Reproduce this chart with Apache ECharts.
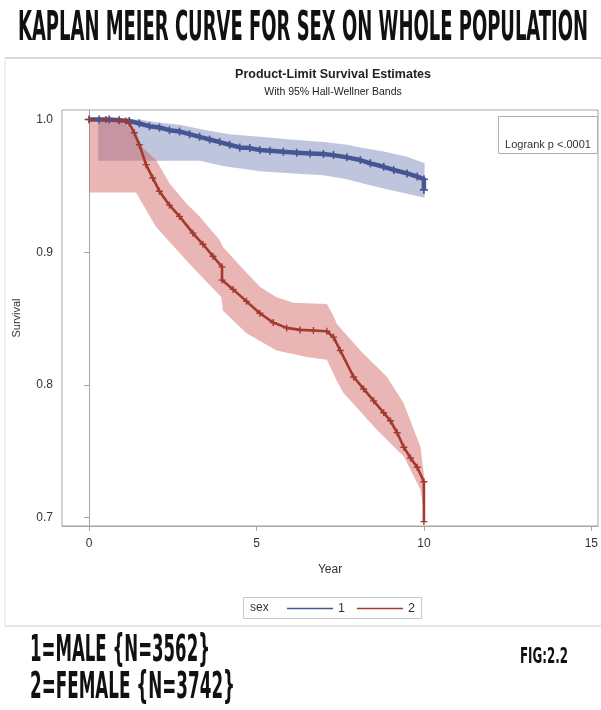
<!DOCTYPE html>
<html>
<head>
<meta charset="utf-8">
<script src="https://cdn.jsdelivr.net/npm/echarts@6/dist/echarts.min.js"></script>
<style>
  html, body { margin: 0; padding: 0; background: #ffffff; }
  #chart { width: 601px; height: 710px; }
</style>
</head>
<body>
<div id="chart"></div>
<script>
// Axis ticks
const xTicks = [0, 5, 10, 15];
const yTicks = [0.7, 0.8, 0.9, 1.0];
const groupNames = ['1', '2'];

// Kaplan-Meier estimate, sex = 1 (male): [year, survival]
const maleCurve = [
  [0, 1.0], [0.3, 1.0], [0.6, 1.0], [0.9, 0.9995], [1.2, 0.999], [1.5, 0.997],
  [1.8, 0.995], [2.1, 0.994], [2.4, 0.992], [2.7, 0.991], [3.0, 0.989], [3.3, 0.987],
  [3.6, 0.985], [3.9, 0.983], [4.2, 0.981], [4.5, 0.979], [4.8, 0.9785], [5.1, 0.977],
  [5.4, 0.9765], [5.8, 0.9757], [6.2, 0.975], [6.6, 0.9745], [7.0, 0.974], [7.3, 0.9732],
  [7.7, 0.9715], [8.1, 0.9695], [8.4, 0.967], [8.8, 0.9644], [9.1, 0.962], [9.5, 0.9594],
  [9.8, 0.957], [10.0, 0.955], [10.0, 0.947]
];
// 95% Hall-Wellner band, male
const maleUpper = [
  [0, 1.0], [1.5, 1.0], [2.0, 0.998], [2.7, 0.996], [3.5, 0.992], [4.2, 0.989],
  [5.1, 0.987], [6.0, 0.985], [7.0, 0.983], [7.7, 0.981], [8.1, 0.979], [8.8, 0.976],
  [9.5, 0.972], [10.02, 0.967]
];
const maleLower = [
  [0, 1.0], [0.27, 1.0], [0.27, 0.969], [3.3, 0.969], [4.0, 0.965], [5.1, 0.961],
  [6.0, 0.9595], [7.0, 0.958], [7.7, 0.955], [8.3, 0.951], [8.8, 0.948], [9.5, 0.944],
  [10.02, 0.941]
];

// Kaplan-Meier estimate, sex = 2 (female): [year, survival]
const femaleCurve = [
  [0, 1.0], [0.5, 1.0], [0.9, 0.9995], [1.1, 0.999], [1.2, 0.997], [1.35, 0.99],
  [1.5, 0.981], [1.7, 0.966], [1.9, 0.956], [2.1, 0.946], [2.4, 0.9355], [2.7, 0.927],
  [3.1, 0.9144], [3.4, 0.906], [3.7, 0.897], [3.97, 0.889], [3.97, 0.879], [4.3, 0.872],
  [4.7, 0.863], [5.1, 0.854], [5.5, 0.847], [5.9, 0.843], [6.3, 0.8415], [6.7, 0.841],
  [7.1, 0.8405], [7.3, 0.836], [7.5, 0.826], [7.9, 0.806], [8.2, 0.797], [8.5, 0.788],
  [8.8, 0.779], [9.0, 0.773], [9.2, 0.764], [9.4, 0.753], [9.6, 0.745], [9.8, 0.738],
  [10.0, 0.727], [10.0, 0.697]
];
// 95% Hall-Wellner band, female
const femaleUpper = [
  [0, 1.0], [1.0, 1.0], [1.3, 0.99], [1.6, 0.979], [2.0, 0.9695], [2.4, 0.952],
  [2.9, 0.937], [3.3, 0.927], [3.9, 0.909], [4.0, 0.904], [4.5, 0.89], [5.1, 0.874],
  [5.6, 0.866], [6.1, 0.862], [7.1, 0.861], [7.3, 0.852], [7.4, 0.846], [8.1, 0.826],
  [8.9, 0.806], [9.4, 0.786], [9.9, 0.753], [10.02, 0.728]
];
const femaleLower = [
  [0, 1.0], [0, 0.945], [1.4, 0.945], [2.0, 0.919], [2.9, 0.894], [3.5, 0.878],
  [3.95, 0.866], [4.0, 0.856], [4.7, 0.839], [5.6, 0.826], [6.5, 0.821], [7.1, 0.819],
  [7.4, 0.803], [7.6, 0.794], [8.6, 0.766], [9.4, 0.746], [9.9, 0.721], [10.02, 0.70]
];

const BLUE = '#445694';
const RED = '#a23a2e';
const BLUE_FILL = 'rgba(111,126,179,0.45)';
const RED_FILL = 'rgba(208,91,91,0.45)';
const PLUS = 'path://M4,0h2v4h4v2h-4v4h-2v-4h-4v-2h4z';
const AXIS_GRAY = '#a6a6a6';
const TEXT = '#333333';

// Horizontal scale factor so a condensed headline fills a given width
const measureCtx = document.createElement('canvas').getContext('2d');
function fitScale(text, font, width) {
  measureCtx.font = font;
  return width / measureCtx.measureText(text).width;
}

function band(name, upper, lower, fill) {
  const pts = upper.concat(lower.slice().reverse());
  return {
    type: 'custom',
    name: name,
    silent: true,
    clip: true,
    data: pts,
    encode: { x: 0, y: 1 },
    renderItem: function (params, api) {
      if (params.dataIndex !== 0) return null;
      return {
        type: 'polygon',
        shape: { points: pts.map(function (p) { return api.coord(p); }) },
        style: { fill: fill }
      };
    },
    z: 2
  };
}

function kmLine(name, data, color, width, size) {
  return {
    type: 'line',
    name: name,
    data: data,
    symbol: PLUS,
    symbolSize: size,
    showSymbol: true,
    lineStyle: { color: color, width: width, join: 'round' },
    itemStyle: { color: color },
    emphasis: { disabled: true },
    z: 3
  };
}

const condensed = '"DejaVu Sans Condensed", "Roboto", "Liberation Sans", sans-serif';
const titleFont = 'bold 41px ' + condensed;
const noteFont = 'bold 37px ' + condensed;
const figFont = 'bold 21px ' + condensed;
const titleText = 'KAPLAN MEIER CURVE FOR SEX ON WHOLE POPULATION';
const maleText = '1=MALE {N=3562}';
const femaleText = '2=FEMALE {N=3742}';
const figText = 'FIG:2.2';

const chart = echarts.init(document.getElementById('chart'), null, { renderer: 'canvas' });

chart.setOption({
  animation: false,
  backgroundColor: '#ffffff',
  grid: {
    left: 62, right: 3, top: 110, bottom: 184,
    show: true, borderColor: AXIS_GRAY, borderWidth: 1, backgroundColor: '#ffffff'
  },
  xAxis: {
    type: 'value', min: -0.81, max: 15.2,
    name: 'Year', nameLocation: 'middle', nameGap: 38,
    nameTextStyle: { color: TEXT, fontSize: 12, fontFamily: 'Liberation Sans' },
    axisLine: { show: true, lineStyle: { color: AXIS_GRAY } },
    axisTick: { show: true, length: 5, lineStyle: { color: AXIS_GRAY }, customValues: xTicks },
    axisLabel: { color: TEXT, fontSize: 12, fontFamily: 'Liberation Sans', margin: 12, customValues: xTicks },
    splitLine: { show: false }
  },
  yAxis: {
    type: 'value', min: 0.6937, max: 1.0072,
    name: 'Survival', nameLocation: 'middle', nameGap: 40,
    nameTextStyle: { color: TEXT, fontSize: 11, fontFamily: 'Liberation Sans' },
    axisLine: { show: true, lineStyle: { color: AXIS_GRAY } },
    axisTick: { show: true, length: 5, lineStyle: { color: AXIS_GRAY }, customValues: yTicks },
    axisLabel: {
      color: TEXT, fontSize: 12, fontFamily: 'Liberation Sans', margin: 9, customValues: yTicks,
      formatter: function (v) { return v.toFixed(1); }
    },
    splitLine: { show: false }
  },
  legend: {
    data: groupNames,
    left: 287, top: 602, padding: 0,
    icon: 'rect', itemWidth: 46, itemHeight: 1.5, itemGap: 12,
    textStyle: { color: TEXT, fontSize: 12.5, fontFamily: 'Liberation Sans' },
    selectedMode: false
  },
  series: [
    band('male band', maleUpper, maleLower, BLUE_FILL),
    band('female band', femaleUpper, femaleLower, RED_FILL),
    kmLine(groupNames[0], maleCurve, BLUE, 4.5, 8),
    kmLine(groupNames[1], femaleCurve, RED, 2.6, 7)
  ],
  graphic: [
    // page rules
    { type: 'line', shape: { x1: 5, y1: 58, x2: 601, y2: 58 }, style: { stroke: '#d8d8d8', lineWidth: 2 }, silent: true },
    { type: 'line', shape: { x1: 5, y1: 58, x2: 5, y2: 626 }, style: { stroke: '#ececec', lineWidth: 1.5 }, silent: true },
    { type: 'line', shape: { x1: 5, y1: 626, x2: 601, y2: 626 }, style: { stroke: '#e4e4e4', lineWidth: 2 }, silent: true },
    // headline
    {
      type: 'text', x: 18, y: 29, scaleX: fitScale(titleText, titleFont, 570),
      style: { text: titleText, font: titleFont, fill: '#111111', textAlign: 'left', textVerticalAlign: 'middle' },
      silent: true
    },
    // plot titles
    {
      type: 'text', x: 333, y: 75,
      style: { text: 'Product-Limit Survival Estimates', font: 'bold 12.5px "Liberation Sans"', fill: '#222222', textAlign: 'center', textVerticalAlign: 'middle' },
      silent: true
    },
    {
      type: 'text', x: 333, y: 92,
      style: { text: 'With 95% Hall-Wellner Bands', font: '10.5px "Liberation Sans"', fill: '#222222', textAlign: 'center', textVerticalAlign: 'middle' },
      silent: true
    },
    // logrank inset
    { type: 'rect', shape: { x: 498.5, y: 116.5, width: 99, height: 37 }, style: { fill: '#ffffff', stroke: '#b0b0b0', lineWidth: 1 }, z: 10, silent: true },
    {
      type: 'text', x: 548, y: 145, z: 11,
      style: { text: 'Logrank p <.0001', font: '11px "Liberation Sans"', fill: TEXT, textAlign: 'center', textVerticalAlign: 'middle' },
      silent: true
    },
    // legend frame and title
    { type: 'rect', shape: { x: 243.5, y: 597.5, width: 178, height: 21 }, style: { fill: 'none', stroke: '#c8c8c8', lineWidth: 1 }, silent: true },
    {
      type: 'text', x: 250, y: 608,
      style: { text: 'sex', font: '12px "Liberation Sans"', fill: TEXT, textAlign: 'left', textVerticalAlign: 'middle' },
      silent: true
    },
    // group notes
    {
      type: 'text', x: 30, y: 651, scaleX: fitScale(maleText, noteFont, 180),
      style: { text: maleText, font: noteFont, fill: '#111111', textAlign: 'left', textVerticalAlign: 'middle' },
      silent: true
    },
    {
      type: 'text', x: 30, y: 688, scaleX: fitScale(femaleText, noteFont, 205),
      style: { text: femaleText, font: noteFont, fill: '#111111', textAlign: 'left', textVerticalAlign: 'middle' },
      silent: true
    },
    {
      type: 'text', x: 520, y: 658, scaleX: fitScale(figText, figFont, 48),
      style: { text: figText, font: figFont, fill: '#111111', textAlign: 'left', textVerticalAlign: 'middle' },
      silent: true
    }
  ]
});
</script>
</body>
</html>
